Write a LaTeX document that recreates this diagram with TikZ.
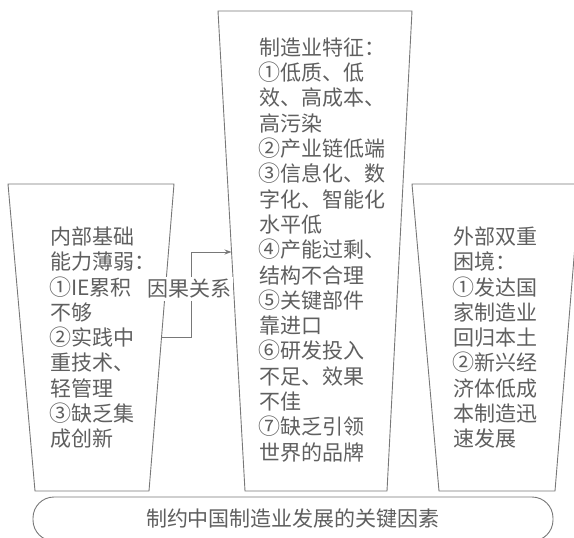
\documentclass[tikz,border=0pt]{standalone}
\usepackage{fontspec}
\newfontfamily\cjk{Noto Sans CJK SC}
\usetikzlibrary{arrows.meta}
\definecolor{ink}{RGB}{95,95,95}
\definecolor{edge}{RGB}{120,120,120}
\newcommand\cnum[1]{\makebox[1em][c]{\fontsize{22}{25}\selectfont #1}}
\tikzset{
  boxline/.style={draw=edge, line width=0.9pt, line join=miter},
  txt/.style={text=ink, font=\cjk\fontsize{21}{25.3}\selectfont, align=left, inner sep=0pt, anchor=north west},
  conn/.style={draw=edge, line width=0.9pt},
  tip/.style={-{Stealth[length=7pt,width=5pt]}}
}
\begin{document}
\begin{tikzpicture}[x=1pt,y=-1pt]
\clip (0,0) rectangle (574,538);
\fill[white] (0,0) rectangle (574,538);
% trapezoid boxes
\draw[boxline] (8,184) coordinate (L1) -- (174,184) coordinate (L2) -- (149,491) coordinate (L3) -- (35,491) coordinate (L4) -- cycle;
\draw[boxline] (218,11) coordinate (C1) -- (412,11) coordinate (C2) -- (387,491) coordinate (C3) -- (245,491) coordinate (C4) -- cycle;
\draw[boxline] (412,184) coordinate (R1) -- (580,184) coordinate (R2) -- (555,491) coordinate (R3) -- (439,491) coordinate (R4) -- cycle;
% banner
\node[draw=edge, line width=0.9pt, rounded corners=21pt, minimum width=520pt, minimum height=44pt, inner sep=0pt,
      text=ink, font=\cjk\fontsize{21}{25}\selectfont] (banner) at (293,519) {制约中国制造业发展的关键因素};
% texts
\node[txt] (ltext) at (50,226.5) {内部基础\\能力薄弱：\\\cnum{①}IE累积\\不够\\\cnum{②}实践中\\重技术、\\轻管理\\\cnum{③}缺乏集\\成创新};
\node[txt] (ctext) at (259,37.5) {制造业特征：\\\cnum{①}低质、低\\效、高成本、\\高污染\\\cnum{②}产业链低端\\\cnum{③}信息化、数\\字化、智能化\\水平低\\\cnum{④}产能过剩、\\结构不合理\\\cnum{⑤}关键部件\\靠进口\\\cnum{⑥}研发投入\\不足、效果\\不佳\\\cnum{⑦}缺乏引领\\世界的品牌};
\node[txt] (rtext) at (453,226.5) {外部双重\\困境：\\\cnum{①}发达国\\家制造业\\回归本土\\\cnum{②}新兴经\\济体低成\\本制造迅\\速发展};
% cause relation
\node[fill=white, text=ink, font=\cjk\fontsize{21}{25}\selectfont, inner sep=2pt] (cause) at (189,289) {因果关系};
\coordinate (brk) at (191,0);
\coordinate (ctip) at (231.5,252);
\coordinate (ltip) at (161.5,337);
\draw[conn, tip] (cause.north -| brk) |- (ctip);
\draw[conn] (cause.south -| brk) |- (ltip);
\end{tikzpicture}
\end{document}
